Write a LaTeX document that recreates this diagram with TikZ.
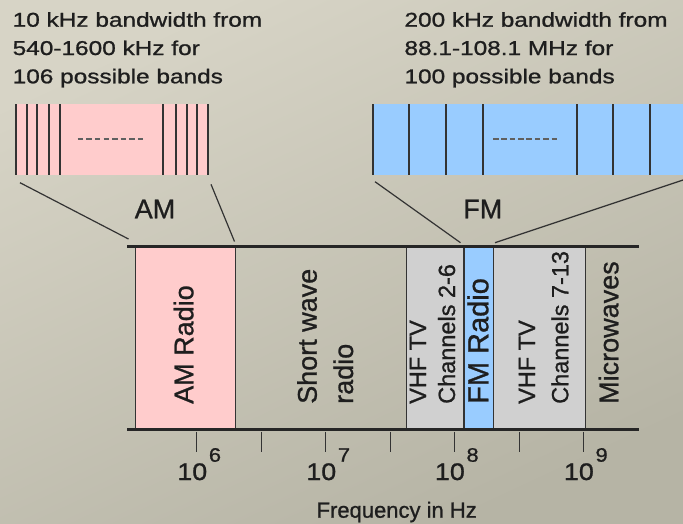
\documentclass[tikz,border=0pt]{standalone}
\usepackage{fontspec}
\setmainfont[FakeBold=0.9]{Liberation Sans}
\usetikzlibrary{calc}
\definecolor{bgA}{HTML}{D7D4C6}
\definecolor{bgB}{HTML}{B6B4A5}
\definecolor{pinkc}{HTML}{FFCCCC}
\definecolor{bluec}{HTML}{99CCFF}
\definecolor{grayc}{HTML}{D0D0D0}
\definecolor{ink}{HTML}{1E1E1E}
\definecolor{edge}{HTML}{333333}
\definecolor{dashc}{HTML}{606060}
\begin{document}
\begin{tikzpicture}[x=1pt,y=-1pt,
  toptxt/.style={anchor=base west, inner sep=0pt, text=ink, font=\fontsize{20}{28.3}\selectfont},
  rot/.style={rotate=90, anchor=base west, inner sep=0pt, text=ink},
  bigrot/.style={rot, font=\fontsize{27}{30}\selectfont},
  smallrot/.style={rot, font=\fontsize{23.5}{26}\selectfont},
  bandbox/.style={draw=edge, line width=1.2pt, inner sep=0pt, anchor=north west, minimum height=183pt},
  miniband/.style={inner sep=0pt, anchor=north west, minimum height=71pt},
  bandline/.style={draw=edge, line width=1.9pt},
  dashline/.style={draw=dashc, line width=1.8pt},
  axisline/.style={draw=black!85, line width=2.4pt},
  tickline/.style={draw=edge, line width=1pt},
  zoomline/.style={draw=black!80, line width=1.2pt},
  biglbl/.style={anchor=base, inner sep=0pt, text=ink, font=\fontsize{27}{30}\selectfont},
  ticklbl/.style={anchor=base, inner sep=0pt, text=ink, font=\fontsize{24}{26}\selectfont}
]
\useasboundingbox (0,0) rectangle (683,523);
\shade[top color=bgA, bottom color=bgB, shading angle=25] (0,0) rectangle (683,523);
\clip (0,0) rectangle (683,523);

% --- top texts
\node[toptxt] (amtxt) at (12.5,26.7) {\scalebox{1.22}[1]{\begin{tabular}[t]{@{}l@{}}10 kHz bandwidth from\\540-1600 kHz for\\106 possible bands\end{tabular}}};
\node[toptxt] (fmtxt) at (404.3,26.7) {\scalebox{1.22}[1]{\begin{tabular}[t]{@{}l@{}}200 kHz bandwidth from\\88.1-108.1 MHz for\\100 possible bands\end{tabular}}};

% --- AM mini band
\node[miniband, fill=pinkc, minimum width=192.6pt] (amband) at (15.7,104) {};
\foreach \x in {15.7,26.7,37.3,49,60,163.3,175.7,186.7,197.3,208.3}
  \draw[bandline] (\x,104) -- (\x,175);
\draw[dashline, dash pattern=on 5.5pt off 3.1pt] (77.7,139.3) -- (143.3,139.3);

% --- FM mini band
\node[miniband, fill=bluec, minimum width=320pt] (fmband) at (372.7,104) {};
\foreach \x in {372.7,409.3,446,483.3,577.3,613.3,650}
  \draw[bandline] (\x,104) -- (\x,175);
\draw[dashline, dash pattern=on 5.5pt off 2.86pt] (493,139.3) -- (557,139.3);

% --- labels AM / FM
\node[biglbl] (amlbl) at (155,218.3) {AM};
\node[biglbl] (fmlbl) at (482.8,218.3) {FM};

% --- spectrum boxes
\node[bandbox, fill=pinkc, minimum width=100pt] (amr) at (135,246.5) {};
\node[bandbox, fill=grayc, minimum width=57.6pt] (vhf1) at (405.7,246.5) {};
\node[bandbox, fill=bluec, minimum width=29.4pt] (fmr) at (463.3,246.5) {};
\node[bandbox, fill=grayc, minimum width=92.3pt] (vhf2) at (492.7,246.5) {};

\coordinate (axTL) at (127,246.5);
\coordinate (axTR) at (639,246.5);
\coordinate (axBL) at (127,429.5);
\coordinate (axBR) at (639,429.5);
\draw[axisline] (axTL) -- (axTR);
\draw[axisline] (axBL) -- (axBR);

% --- zoom connectors
\coordinate (amA) at (20,182.7);
\coordinate (amB) at (128.5,239);
\coordinate (amC) at (211,184.3);
\coordinate (amD) at (234.5,241.5);
\coordinate (fmA) at (375,181.7);
\coordinate (fmB) at (460.5,242.7);
\coordinate (fmC) at (690,177.7);
\coordinate (fmD) at (495,242.7);
\draw[zoomline] (amA) -- (amB);
\draw[zoomline] (amC) -- (amD);
\draw[zoomline] (fmA) -- (fmB);
\draw[zoomline] (fmC) -- (fmD);

% --- rotated labels
\node[bigrot] (amrad) at (193.3,404) {AM Radio};
\node[bigrot] (sw1) at (316.7,404) {Short wave};
\node[bigrot] (sw2) at (353,404) {radio};
\node[smallrot] (v1a) at (426,404) {VHF TV};
\node[smallrot] (v1b) at (455,404) {Channels 2-6};
\node[rot, font=\fontsize{29}{31}\selectfont] (fmrad) at (488.3,404) {FM Radio};
\node[smallrot] (v2a) at (535,404) {VHF TV};
\node[smallrot] (v2b) at (568.3,404) {Channels 7-13};
\node[bigrot] (mw) at (618.3,404) {Microwaves};

% --- ticks
\foreach \x in {196.7,261.7,325.7,390,454.3,519,583.3}
  \draw[tickline] (\x,431.5) -- (\x,451.5);
\foreach \x/\e in {196.7/6,325.7/7,454.3/8,583.3/9}
  \node[ticklbl] (t\e) at (\x+2.5,480) {\scalebox{1.12}[1]{10\kern1.5pt\raisebox{18.3pt}{\fontsize{19.5}{21}\selectfont \e}}};

\node[anchor=base, inner sep=0pt, text=ink, font=\fontsize{22}{24}\selectfont] (freq) at (396.7,517.7) {Frequency in Hz};
\end{tikzpicture}
\end{document}
